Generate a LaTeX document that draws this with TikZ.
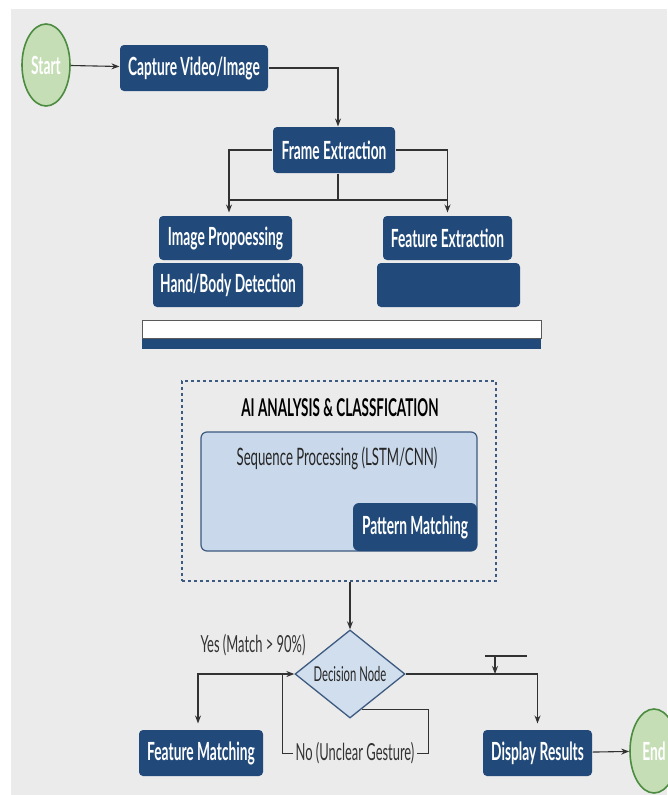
\documentclass[tikz,border=0pt]{standalone}
\usepackage{fontspec}
\setmainfont{Lato}[FakeStretch=0.55]
\usepackage{tikz}
\usetikzlibrary{arrows.meta,shapes.geometric,positioning,calc}

\definecolor{pagegray}{RGB}{235,235,235}
\definecolor{navy}{RGB}{33,74,122}
\definecolor{leafgreen}{RGB}{197,222,181}
\definecolor{leafedge}{RGB}{76,140,64}
\definecolor{paleblue}{RGB}{201,216,234}
\definecolor{steeledge}{RGB}{61,90,128}
\definecolor{wire}{RGB}{50,50,50}

\begin{document}
\begin{tikzpicture}[x=1pt,y=-1pt,>={Stealth[length=8pt,width=6pt]},
line width=1.1pt,
block/.style={fill=navy,draw=none,rounded corners=4pt,text=white,inner sep=0pt,
font=\fontsize{25}{28}\selectfont\bfseries},
terminal/.style={ellipse,fill=leafgreen,draw=leafedge,line width=1.6pt,inner sep=0pt,
minimum width=48pt,minimum height=82pt,text=white,font=\fontsize{25}{28}\selectfont\bfseries},
link/.style={draw=wire,line width=1.1pt},
label/.style={text=black!80,font=\fontsize{23.5}{26}\selectfont}]
% page
\useasboundingbox (0,0) rectangle (667,795);
\fill[white] (0,0) rectangle (667,795);
\fill[pagegray] (11,9) rectangle (667,795);

% capture and frames
\node[terminal] (start) at (46,65) {Start};
\node[block,minimum width=148pt,minimum height=46pt] (capture) at (194,68) {Capture Video/Image};
\node[block,minimum width=122pt,minimum height=46pt] (frame) at (334,150) {Frame Extraction};
\node[block,minimum width=133pt,minimum height=44pt] (imgproc) at (225.5,238) {Image Propoessing};
\node[block,minimum width=150pt,minimum height=44pt] (handbody) at (228,285) {Hand/Body Detection};
\node[block,minimum width=129pt,minimum height=44pt] (featext) at (447.5,238) {Feature Extraction};
\node[block,minimum width=143pt,minimum height=44pt] (blank) at (448.5,285) {};
\node[fill=white,draw=black!65,line width=1pt,minimum width=399pt,minimum height=18pt,inner sep=0pt] (bartop) at (341.5,329) {};
\node[fill=navy,draw=none,minimum width=399pt,minimum height=10pt,inner sep=0pt,below=0pt of bartop] (barbase) {};

% AI analysis
\node[draw=steeledge,dashed,line width=1.2pt,minimum width=314pt,minimum height=200pt] (aibox) at (339,481) {};
\node[font=\fontsize{24.5}{27}\selectfont\bfseries,text=black] (aititle) at (340,408) {AI ANALYSIS \& CLASSFICATION};
\node[fill=paleblue,draw=steeledge,line width=1.2pt,rounded corners=6pt,minimum width=276pt,minimum height=119pt] (seqbox) at (339,491.5) {};
\node[text=black!85,font=\fontsize{24}{27}\selectfont] (seqtext) at (337,458) {Sequence Processing (LSTM/CNN)};
\node[block,rounded corners=6pt,minimum width=124pt,minimum height=48pt] (pattern) at (415,527) {Pattern Matching};

% decision
\node[diamond,fill=paleblue!85!white,draw=steeledge,line width=1.3pt,inner sep=0pt,
minimum width=110pt,minimum height=84pt,text=black!85,font=\fontsize{20.5}{23}\selectfont] (dec) at (350,674) {Decision Node};
\node[block,minimum width=124pt,minimum height=46pt] (featm) at (201,753) {Feature Matching};
\node[block,minimum width=109pt,minimum height=46pt] (display) at (537.5,753) {Display Results};
\node[terminal,minimum height=84pt] (endn) at (654,751) {End};
\node[label] (yeslabel) at (253,645) {Yes (Match > 90\%)};
\node[label,inner sep=2pt] (nolabel) at (355,753) {No (Unclear Gesture)};

% connectors
\coordinate (hub) at (338,200);
\coordinate (yesj) at (198,674);
\coordinate (noR) at (428,753);
\coordinate (noL) at (282,753);
\coordinate (tick) at (495,656);
\path[link,->] (start) -- (capture);
\path[link,->] (capture.east) -| ([xshift=4pt]frame.north);
\path[link,->,shorten >=3pt] (frame.west) -| ([xshift=3.5pt]imgproc.north);
\path[link,->,shorten >=3pt] (frame.east) -| (featext.north);
\path[link] ([xshift=4pt]frame.south) -- (hub);
\path[link] ([xshift=3.5pt]imgproc.north |- hub) -- (featext.north |- hub);
\path[link,->] (dec.north |- aibox.south) -- (dec.north);
\path[link,<->,shorten >=6pt] (dec.west) -- (yesj) -- (yesj |- featm.north);
\path[link,line width=0.9pt] ($(dec.south)!0.21!(dec.east)$) -| (noR) -- (nolabel.east);
\path[link,line width=0.9pt] (nolabel.west) -- (noL) -- (noL |- dec.west);
\path[link,->,shorten >=6pt] (dec.east) -| (display.north);
\path[link] ([xshift=-10pt]tick) -- ([xshift=32pt]tick);
\path[link,->] (tick) -- (tick |- dec.east);
\path[link,->] (display) -- (endn);
\end{tikzpicture}
\end{document}
